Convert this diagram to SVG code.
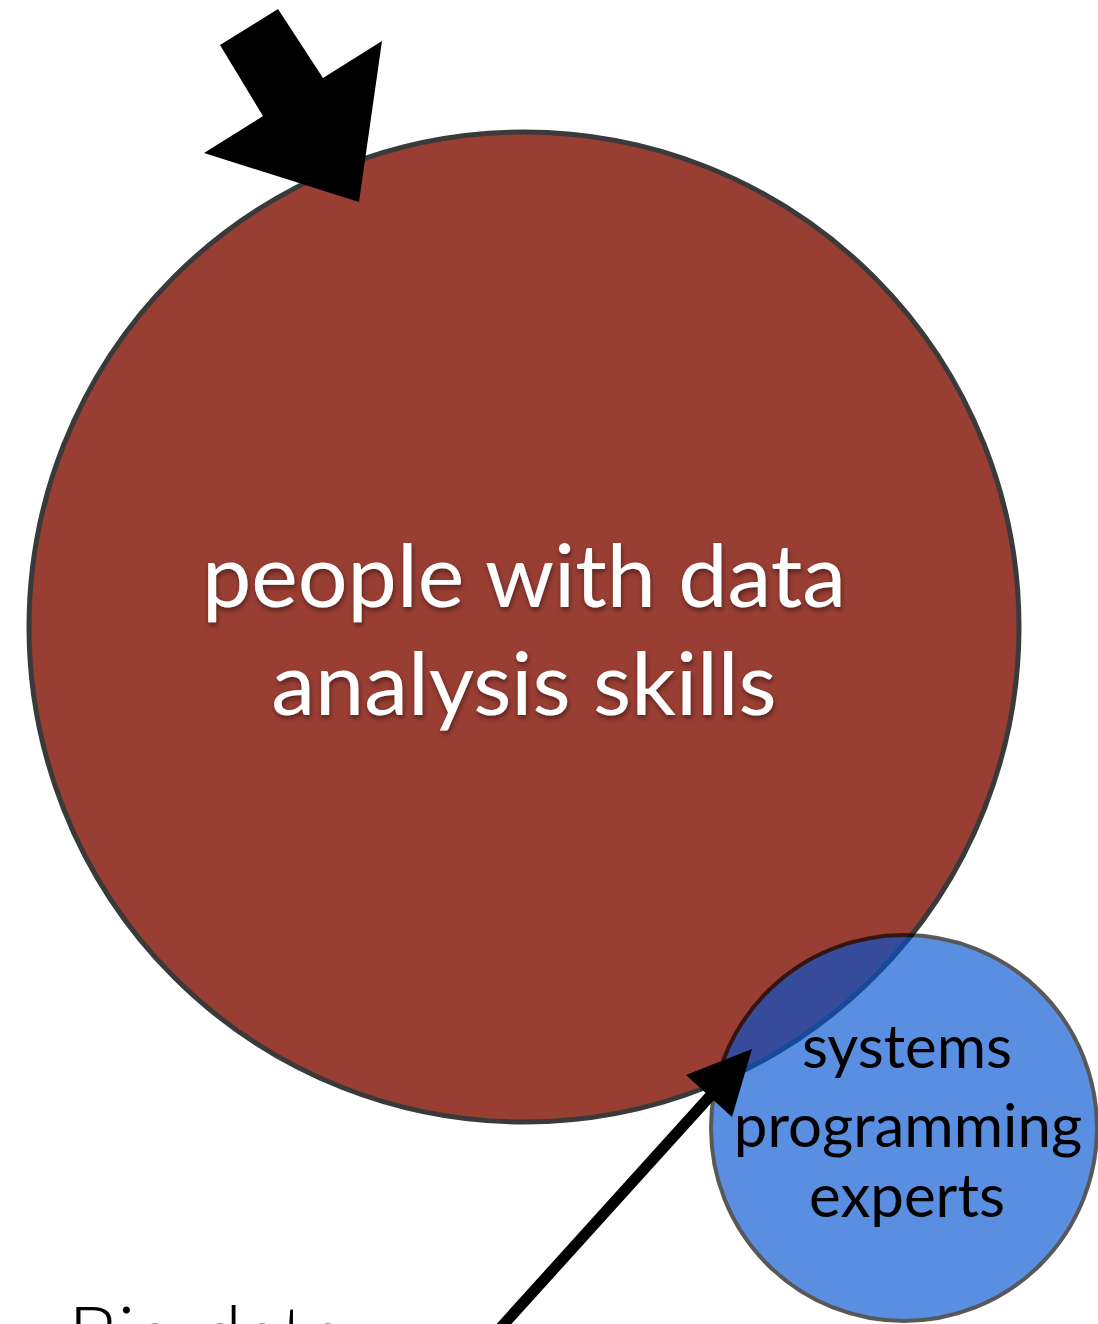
<svg xmlns="http://www.w3.org/2000/svg" width="1098" height="1324" viewBox="0 0 1098 1324">
  <defs>
    <filter id="softShadow" x="-10%" y="-20%" width="120%" height="150%">
      <feDropShadow dx="1" dy="3" stdDeviation="2.5" flood-color="#000" flood-opacity="0.45"/>
    </filter>
  </defs>
  <style>
    .label { font-family: Lato, "Open Sans", "Liberation Sans", sans-serif; text-anchor: middle; }
    .big { font-size: 88px; fill: #ffffff; }
    .small { font-size: 60px; fill: #000000; }
    .caption { font-family: Lato, "Liberation Sans", sans-serif; font-size: 80px; fill: #000000; font-weight: 300; }
  </style>
  <rect width="1098" height="1324" fill="#ffffff"/>

  <!-- Large population circle -->
  <g id="data-analysis">
    <circle cx="524" cy="627" r="495" fill="#993E33" stroke="#3a3a3a" stroke-width="5"/>
    <g filter="url(#softShadow)">
      <text class="label big" x="524" y="607">people with data</text>
      <text class="label big" x="524" y="715">analysis skills</text>
    </g>
  </g>

  <!-- Small translucent circle overlapping the large one -->
  <g id="systems-programming">
    <circle cx="904" cy="1128" r="193" fill="#0253D0" stroke="#000000" stroke-width="4" opacity="0.65"/>
    <text class="label small" x="907" y="1068">systems</text>
    <text class="label small" x="908" y="1147">programming</text>
    <text class="label small" x="907" y="1217">experts</text>
  </g>

  <!-- Caption running off the bottom edge -->
  <g id="caption">
    <text class="caption" x="68" y="1364">Big data</text>
  </g>

  <!-- Arrows -->
  <g id="connectors">
    <polygon points="220,45 278,9 323,78 382,41 359,202 204,153 263,116" fill="#000000"/>
    <line x1="485" y1="1345" x2="712" y2="1094" stroke="#000000" stroke-width="11"/>
    <polygon points="752,1049 686,1075 732,1117" fill="#000000"/>
  </g>
</svg>
